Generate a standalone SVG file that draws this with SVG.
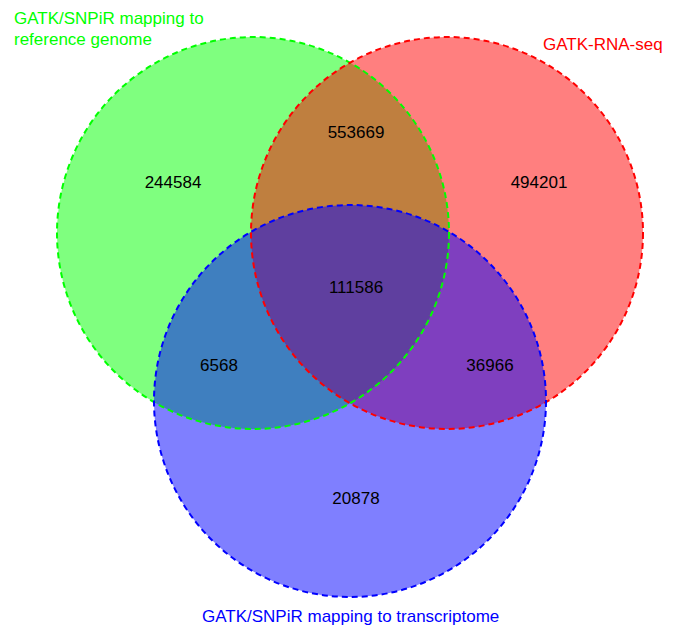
<svg xmlns="http://www.w3.org/2000/svg" width="678" height="628" viewBox="0 0 678 628">
<style>
.num{font-family:"Liberation Sans",Arial,sans-serif;font-size:17px;fill:#000;text-anchor:middle}
.lab{font-family:"Liberation Sans",Arial,sans-serif;font-size:17px}
.edge{fill:none;stroke-width:2;stroke-dasharray:6 4}
</style>
<rect width="678" height="628" fill="#fff"/>
<g id="fills">
<circle cx="253" cy="233" r="196" fill="#00ff00" fill-opacity="0.5"/>
<circle cx="447" cy="233" r="196" fill="#ff0000" fill-opacity="0.5"/>
<circle cx="350" cy="401" r="196" fill="#0000ff" fill-opacity="0.5"/>
</g>
<g id="connectors">
<circle class="edge" cx="253" cy="233" r="196" stroke="#00ff00"/>
<circle class="edge" cx="447" cy="233" r="196" stroke="#ff0000"/>
<circle class="edge" cx="350" cy="401" r="196" stroke="#0000ff"/>
</g>
<g id="n-green"><text class="lab" x="14" y="24" fill="#00ff00">GATK/SNPiR mapping to</text><text class="lab" x="14" y="45" fill="#00ff00">reference genome</text></g>
<g id="n-red"><text class="lab" x="543" y="50" fill="#ff0000">GATK-RNA-seq</text></g>
<g id="n-blue"><text class="lab" x="202" y="622" fill="#0000ff">GATK/SNPiR mapping to transcriptome</text></g>
<g id="n-a"><text class="num" x="173" y="188">244584</text></g>
<g id="n-b"><text class="num" x="356" y="138">553669</text></g>
<g id="n-c"><text class="num" x="539" y="188">494201</text></g>
<g id="n-d"><text class="num" x="356" y="293">111586</text></g>
<g id="n-e"><text class="num" x="219" y="371">6568</text></g>
<g id="n-f"><text class="num" x="490" y="371">36966</text></g>
<g id="n-g"><text class="num" x="356" y="504">20878</text></g>
</svg>
